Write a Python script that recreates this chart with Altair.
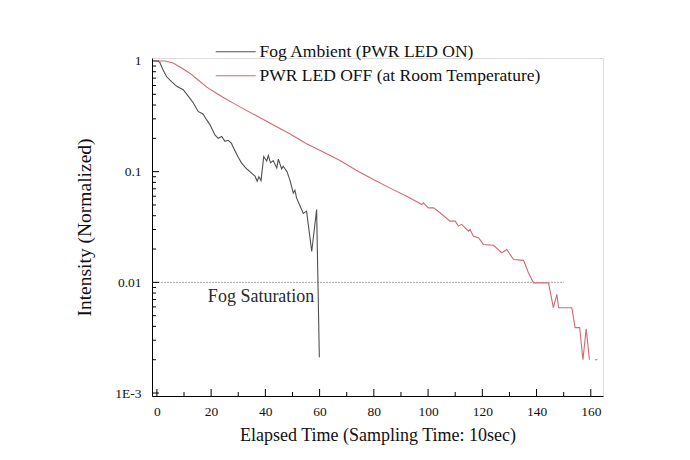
import altair as alt
import pandas as pd

FONT = "Liberation Serif"

series_names = ["Fog Ambient (PWR LED ON)", "PWR LED OFF (at Room Temperature)"]

fog_t = [0, 1, 2.3, 3.6, 5.4, 7.3, 8.5, 9.7, 12.2, 13.4, 15.2, 17.1, 18.3, 19.6, 21.4, 22.6,
         23.9, 25.1, 26.3, 27.5, 28.6, 30.0, 31.2, 32.5, 33.5, 34.9, 36.2, 37.0, 37.6, 38.4,
         39.4, 40.5, 41.1, 41.9, 42.9, 44.2, 44.8, 46.0, 46.6, 48.0, 49.1, 50.3, 50.9, 51.5,
         52.8, 54.0, 55.2, 57.1, 58.9, 59.9]
fog_v = [1.0, 0.98, 0.83, 0.72, 0.65, 0.59, 0.57, 0.55, 0.46, 0.42, 0.35, 0.33, 0.295, 0.265,
         0.215, 0.20, 0.208, 0.188, 0.192, 0.18, 0.158, 0.135, 0.12, 0.11, 0.104, 0.097, 0.091,
         0.082, 0.09, 0.083, 0.137, 0.125, 0.14, 0.12, 0.126, 0.108, 0.13, 0.106, 0.112, 0.1,
         0.083, 0.064, 0.068, 0.058, 0.049, 0.042, 0.044, 0.019, 0.0455, 0.0021]

pwr_t = [0, 3, 6, 9, 12, 15, 18.4, 21.5, 24.4, 27.5, 30.6, 36.7, 42.8, 49, 55, 61, 67.5, 73.5,
         79.8, 86, 92.1, 95, 97.7, 98.3, 100.1, 102, 104.4, 108.1, 110, 111.2, 112.4, 114.9,
         115.5, 116.7, 118.6, 120.4, 124.1, 127.2, 129, 131.5, 135.2, 137, 138.9, 144.4, 146.2,
         147.5, 148.1, 153, 154.2, 155.9, 157.1, 158.3, 159.5, 161.6, 162.4]
pwr_v = [1.0, 1.0, 0.96, 0.87, 0.78, 0.68, 0.58, 0.52, 0.47, 0.425, 0.385, 0.32, 0.265, 0.22,
         0.18, 0.152, 0.126, 0.103, 0.085, 0.071, 0.060, 0.055, 0.0504, 0.0522, 0.0471, 0.0471,
         0.0425, 0.0357, 0.0357, 0.0322, 0.0334, 0.029, 0.030, 0.0261, 0.0253, 0.022, 0.0216,
         0.0185, 0.0198, 0.0161, 0.0158, 0.0122, 0.0099, 0.0099, 0.0059, 0.0078, 0.0059, 0.0059,
         0.0039, 0.0039, 0.0020, 0.0038, 0.0020, 0.0020, 0.0020]
pwr_seg = [0] * 53 + [1, 1]

sat_level = 0.01
sat_start, sat_end = -1.8, 150
sat_label = "Fog Saturation"
sat_label_t, sat_label_v = 18.8, 0.0073

x_domain = [-1.8, 164.5]
y_domain = [0.00094, 1.064]
x_major = [0, 20, 40, 60, 80, 100, 120, 140, 160]
x_minor = [10, 30, 50, 70, 90, 110, 130, 150]
y_major = [1, 0.1, 0.01, 0.001]
y_minor = [m * 10.0 ** e for e in (-3, -2, -1) for m in range(2, 10)]

W, H = 451, 338

rows = []
for t, v in zip(fog_t, fog_v):
    rows.append({"t": t, "v": v, "series": series_names[0], "seg": "f0"})
for t, v, s in zip(pwr_t, pwr_v, pwr_seg):
    rows.append({"t": t, "v": v, "series": series_names[1], "seg": f"p{s}"})
df = pd.DataFrame(rows)

xs = alt.Scale(domain=x_domain, nice=False, zero=False)
ys = alt.Scale(type="log", domain=y_domain, nice=False)

lines = alt.Chart(df).mark_line(strokeWidth=1.1).encode(
    x=alt.X("t:Q", scale=xs, axis=alt.Axis(
        values=x_major, ticks=False, grid=False, domainColor="black", domainWidth=1,
        labelFont=FONT, labelFontSize=13.5, labelColor="#111", labelPadding=8,
        title="Elapsed Time (Sampling Time: 10sec)", titleFont=FONT, titleFontSize=18,
        titleFontWeight="normal", titleColor="#111", titlePadding=9)),
    y=alt.Y("v:Q", scale=ys, axis=alt.Axis(
        values=y_major, ticks=False, grid=False, domainColor="black", domainWidth=1,
        labelExpr="datum.value < 0.005 ? '1E-3' : datum.value < 0.05 ? '0.01' : datum.value < 0.5 ? '0.1' : '1'",
        labelFont=FONT, labelFontSize=13.5, labelColor="#111", labelPadding=11,
        title="Intensity (Normalized)", titleFont=FONT, titleFontSize=19.5,
        titleFontWeight="normal", titleColor="#111", titlePadding=20)),
    color=alt.Color("series:N", scale=alt.Scale(domain=series_names, range=["#505050", "#d06a73"]),
                    legend=alt.Legend(orient="none", legendX=75, legendY=-15, title=None,
                                      symbolType="M-5,0H5", symbolSize=64, symbolStrokeWidth=1.2,
                                      labelFont=FONT, labelFontSize=17.5, labelColor="#111",
                                      labelLimit=0, labelOffset=15, rowPadding=5)),
    detail="seg:N",
)

sat_df = pd.DataFrame({"t0": [sat_start], "t1": [sat_end], "v": [sat_level]})
sat = alt.Chart(sat_df).mark_rule(color="#a8a8a8", strokeWidth=1, strokeDash=[2, 1]).encode(
    x=alt.X("t0:Q", scale=xs), x2="t1:Q", y=alt.Y("v:Q", scale=ys))

lab_df = pd.DataFrame({"t": [sat_label_t], "v": [sat_label_v], "txt": [sat_label]})
lab = alt.Chart(lab_df).mark_text(align="left", baseline="middle", font=FONT, fontSize=18,
                                  color="#2a2a2a").encode(
    x=alt.X("t:Q", scale=xs), y=alt.Y("v:Q", scale=ys), text="txt:N")

ymaj = alt.Chart(pd.DataFrame({"v": y_major})).mark_rule(color="black").encode(
    y=alt.Y("v:Q", scale=ys), x=alt.value(0), x2=alt.value(7))
ymin = alt.Chart(pd.DataFrame({"v": y_minor})).mark_rule(color="black").encode(
    y=alt.Y("v:Q", scale=ys), x=alt.value(0), x2=alt.value(4))
xmaj = alt.Chart(pd.DataFrame({"t": x_major})).mark_rule(color="black").encode(
    x=alt.X("t:Q", scale=xs), y=alt.value(H), y2=alt.value(H - 7))
xmin = alt.Chart(pd.DataFrame({"t": x_minor})).mark_rule(color="black").encode(
    x=alt.X("t:Q", scale=xs), y=alt.value(H), y2=alt.value(H - 4))

chart = alt.layer(sat, lab, ymaj, ymin, xmaj, xmin, lines).properties(
    width=W, height=H,
    padding={"left": 144, "top": 50, "right": 60, "bottom": 50},
    autosize="none",
).configure_view(stroke=None).configure(background="white")

chart.save("out.html", embed_options={"renderer": "svg", "actions": False})
